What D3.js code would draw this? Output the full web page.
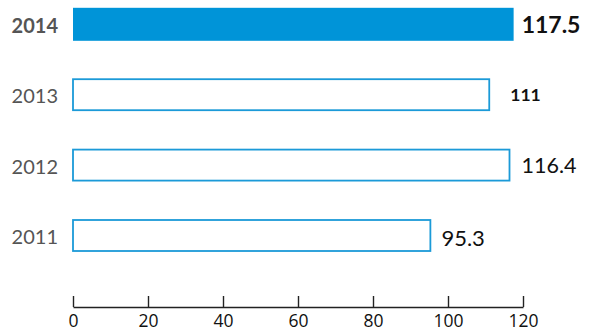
<!DOCTYPE html>
<html>
<head>
<meta charset="utf-8">
<script src="https://cdn.jsdelivr.net/npm/d3@7/dist/d3.min.js"></script>
<style>
  html, body { margin: 0; padding: 0; background: #fff; }
  svg { display: block; }
</style>
</head>
<body>
<svg id="chart" width="589" height="332"></svg>
<script>
// Annual values, most recent year first (top row)
const years = ["2014", "2013", "2012", "2011"];
const values = [117.5, 111, 116.4, 95.3];
const valueLabels = ["117.5", "111", "116.4", "95.3"];
const highlightYear = "2014";
const xTicks = [0, 20, 40, 60, 80, 100, 120];

// Per-row label typography
const labelStyle = {
  "2014": { size: 23, weight: 700, gap: 8,  dy: 8.5 },
  "2013": { size: 17.5, weight: 700, gap: 21, dy: 6 },
  "2012": { size: 21.5, weight: 400, gap: 12, dy: 8 },
  "2011": { size: 22, weight: 400, gap: 11, dy: 10 }
};

const blue = "#0094d8";
const svg = d3.select("#chart");

const x = d3.scaleLinear().domain([0, 120]).range([73, 523]);
const y = d3.scalePoint().domain(years).range([24.3, 235.5]);

const rows = years.map((yr, i) => ({ year: yr, value: values[i], label: valueLabels[i] }));

// Bars: highlighted year filled, others outlined
svg.append("g").selectAll("rect")
  .data(rows)
  .join("rect")
  .attr("x", x(0))
  .attr("y", d => y(d.year) - (d.year === highlightYear ? 16.5 : 15.5))
  .attr("width", d => x(d.value) - x(0))
  .attr("height", d => d.year === highlightYear ? 33 : 31)
  .attr("fill", d => d.year === highlightYear ? blue : "#fff")
  .attr("stroke", d => d.year === highlightYear ? "none" : "#1b9ad8")
  .attr("stroke-width", 1.8);

// Year labels on the left
svg.append("g").selectAll("text")
  .data(rows)
  .join("text")
  .attr("x", 58)
  .attr("y", d => y(d.year) + 8.5)
  .attr("text-anchor", "end")
  .attr("font-family", "Lato, 'Open Sans', sans-serif")
  .attr("font-size", 20)
  .attr("font-weight", d => d.year === highlightYear ? 700 : 400)
  .attr("fill", "#555")
  .text(d => d.year);

// Value labels at the bar ends
svg.append("g").selectAll("text")
  .data(rows)
  .join("text")
  .attr("x", d => x(d.value) + labelStyle[d.year].gap)
  .attr("y", d => y(d.year) + labelStyle[d.year].dy)
  .attr("font-family", "Lato, 'Open Sans', sans-serif")
  .attr("font-size", d => labelStyle[d.year].size)
  .attr("font-weight", d => labelStyle[d.year].weight)
  .attr("fill", "#111")
  .text(d => d.label);

// Bottom axis with ticks pointing up
const axis = svg.append("g")
  .attr("transform", "translate(0,307)")
  .call(d3.axisBottom(x).tickValues(xTicks).tickSizeInner(-11).tickSizeOuter(0).tickPadding(10));
axis.select(".domain").attr("stroke", "#222").attr("stroke-width", 1.4);
axis.selectAll(".tick line").attr("stroke", "#222").attr("stroke-width", 1.4);
axis.selectAll(".tick text")
  .attr("y", 20)
  .attr("dy", 0)
  .attr("font-family", "'Open Sans', sans-serif")
  .attr("font-size", 17.5)
  .attr("fill", "#111");
</script>
</body>
</html>
